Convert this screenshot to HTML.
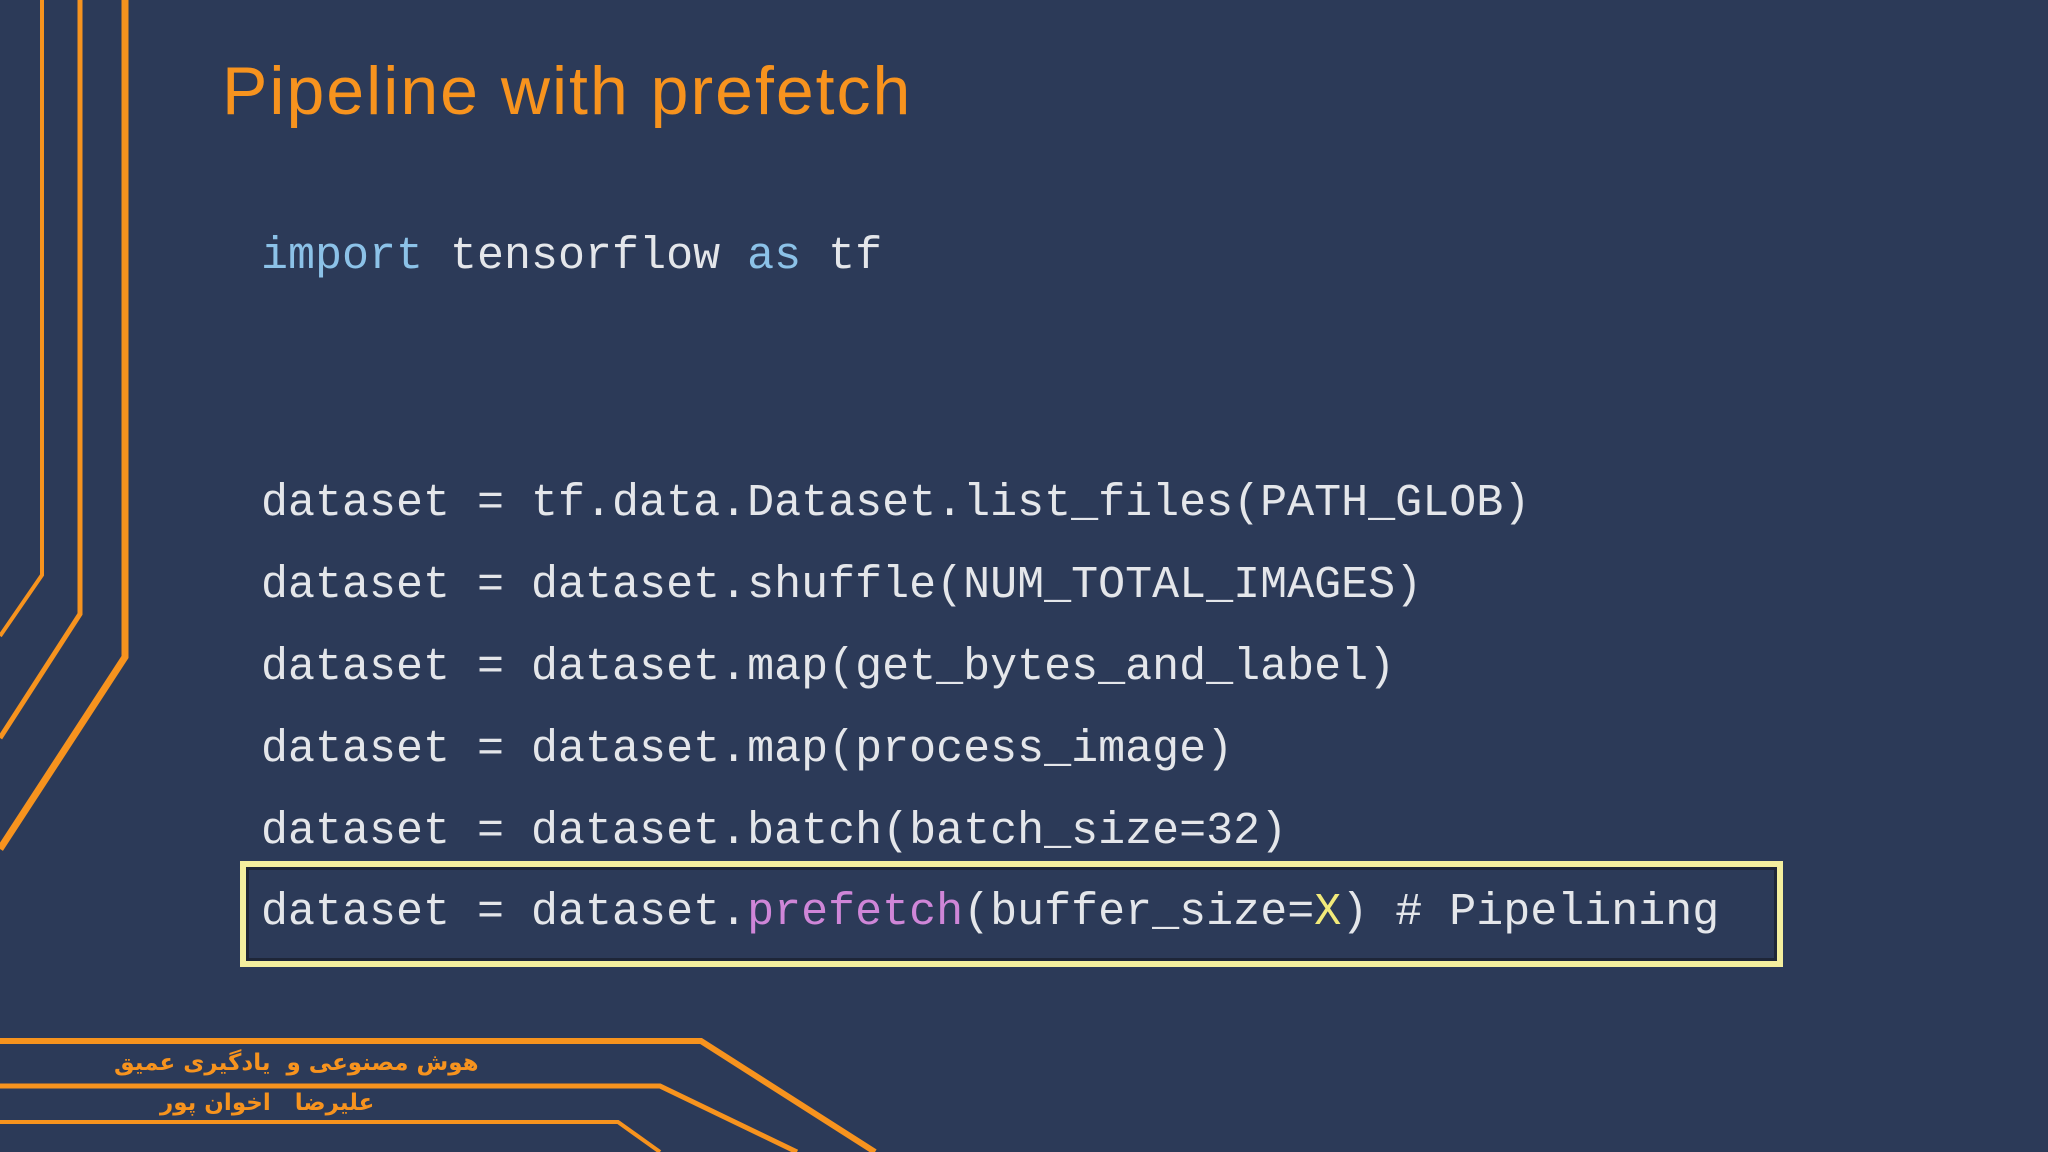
<!DOCTYPE html>
<html><head><meta charset="utf-8"><style>
html,body{margin:0;padding:0}
body{width:2048px;height:1152px;background:#2c3a58;position:relative;overflow:hidden;font-family:"Liberation Sans",sans-serif}
.t{position:absolute;left:222px;top:52px;font-size:68px;letter-spacing:2px;color:#f7931e;white-space:nowrap}
.c{position:absolute;left:261px;font-family:"Liberation Mono",monospace;font-size:45px;color:#e4e6ea;white-space:pre;line-height:1}
.k{color:#8cc2e8}.p{color:#cf86d8}.y{color:#f2ea7a}
.box{position:absolute;left:240px;top:861px;width:1531px;height:94px;border:6px solid #f4ef9e;box-shadow:inset 0 0 0 3px #1e2638}
.fa{position:absolute;color:#f7931e;font-family:"DejaVu Sans",sans-serif;font-size:23px;font-weight:bold;letter-spacing:5px;white-space:pre;direction:rtl}
</style></head><body>
<svg width="2048" height="1152" style="position:absolute;left:0;top:0">
<g fill="none" stroke="#f7931e" stroke-linejoin="miter">
<polyline points="42,0 42,575 0,636" stroke-width="4"/>
<polyline points="80,0 80,614 0,738" stroke-width="5"/>
<polyline points="125,0 125,657 0,849" stroke-width="7"/>
<polyline points="0,1041 701,1041 875,1152" stroke-width="6"/>
<polyline points="0,1086 660,1086 797,1152" stroke-width="5"/>
<polyline points="0,1122 618,1122 660,1152" stroke-width="4"/>
</g></svg>
<div class="t">Pipeline with prefetch</div>
<div class="c" style="top:234px"><span class="k">import</span> tensorflow <span class="k">as</span> tf</div>
<div class="c" style="top:481px">dataset = tf.data.Dataset.list_files(PATH_GLOB)</div>
<div class="c" style="top:563px">dataset = dataset.shuffle(NUM_TOTAL_IMAGES)</div>
<div class="c" style="top:645px">dataset = dataset.map(get_bytes_and_label)</div>
<div class="c" style="top:727px">dataset = dataset.map(process_image)</div>
<div class="c" style="top:809px">dataset = dataset.batch(batch_size=32)</div>
<div class="box"></div>
<div class="c" style="top:890px">dataset = dataset.<span class="p">prefetch</span>(buffer_size=<span class="y">X</span>) # Pipelining</div>
<div class="fa" style="left:114px;top:1050px">هوش مصنوعی و  یادگیری عمیق</div>
<div class="fa" style="left:160px;top:1090px">علیرضا   اخوان پور</div>
</body></html>
